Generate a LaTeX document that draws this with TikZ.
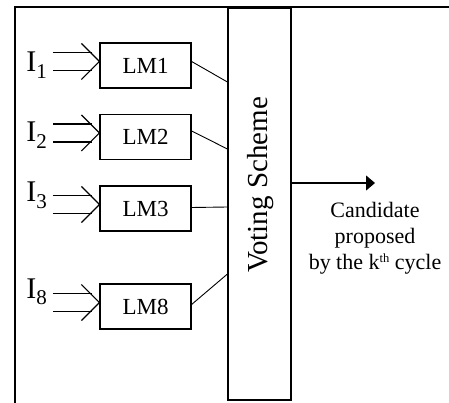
\documentclass[tikz,border=0pt]{standalone}
\usepackage{fontspec}
\setmainfont{Liberation Serif}
\usetikzlibrary{arrows.meta}
\newcommand{\insub}[1]{\raisebox{-6.5pt}{\fontsize{21}{23}\selectfont #1}}
\newcommand{\ordsup}[1]{\raisebox{7pt}{\fontsize{12.5}{14}\selectfont #1}}
\begin{document}
\begin{tikzpicture}[x=1pt,y=-1pt,
  lmbox/.style={draw,line width=1.2pt,minimum width=91pt,minimum height=45pt,
    inner sep=0pt,font=\fontsize{23}{25}\selectfont},
  inlabel/.style={anchor=base east,inner sep=0pt,font=\fontsize{30}{32}\selectfont},
  feed/.style={line width=1.2pt},
  link/.style={line width=0.9pt},
  frameline/.style={line width=2.2pt}]
\useasboundingbox (0,0) rectangle (449,403);

% outer frame (top and left sides only)
\draw[frameline] (15,403) -- (15,7) -- (449,7);

% voting block
\node[draw,line width=1.1pt,minimum width=63pt,minimum height=392pt,inner sep=0pt]
  (vote) at (259.5,204) {};
\node[rotate=90,inner sep=0pt,font=\fontsize{29}{31}\selectfont] (votetext) at (261,185) {Voting Scheme};

% learning modules
\node[lmbox] (lm1) at (145.5,65.5) {LM1};
\node[lmbox] (lm2) at (145.5,137) {LM2};
\node[lmbox] (lm3) at (145.5,208.5) {LM3};
\node[lmbox] (lm8) at (145.5,306.5) {LM8};

% input labels
\node[inlabel] (i1) at (47,72) {I\insub{1}};
\node[inlabel] (i2) at (47,142) {I\insub{2}};
\node[inlabel] (i3) at (47,202) {I\insub{3}};
\node[inlabel] (i8) at (47,298) {I\insub{8}};

% double input arrows
\foreach \m in {lm1,lm2,lm3,lm8}{
  \coordinate (\m tip) at ([yshift=4pt]\m.west);
  \draw[feed] ([xshift=-46pt,yshift=9pt]\m tip) -- ([xshift=-7pt,yshift=9pt]\m tip);
  \draw[feed] ([xshift=-46pt,yshift=-9pt]\m tip) -- ([xshift=-7pt,yshift=-9pt]\m tip);
  \draw[feed] ([xshift=-18pt,yshift=18pt]\m tip) -- (\m tip) -- ([xshift=-18pt,yshift=-18pt]\m tip);
}

% links to the voting block
\draw[link] ([yshift=4pt]lm1.east) -- (vote.west |- 0,82);
\draw[link] ([yshift=6pt]lm2.east) -- (vote.west |- 0,149);
\draw[link] ([yshift=1pt]lm3.east) -- (vote.west |- 0,207);
\draw[link] ([yshift=2pt]lm8.east) -- (vote.west |- 0,274);

% output
\coordinate (outend) at (375,183);
\draw[line width=1.1pt,-{Triangle[width=15pt,length=9pt]}] (vote.east |- outend) -- (outend);
\node[align=center,inner sep=0pt,font=\fontsize{22}{26}\selectfont] (cand) at (375,238)
  {Candidate\\proposed\\by the k\ordsup{th} cycle};
\end{tikzpicture}
\end{document}
